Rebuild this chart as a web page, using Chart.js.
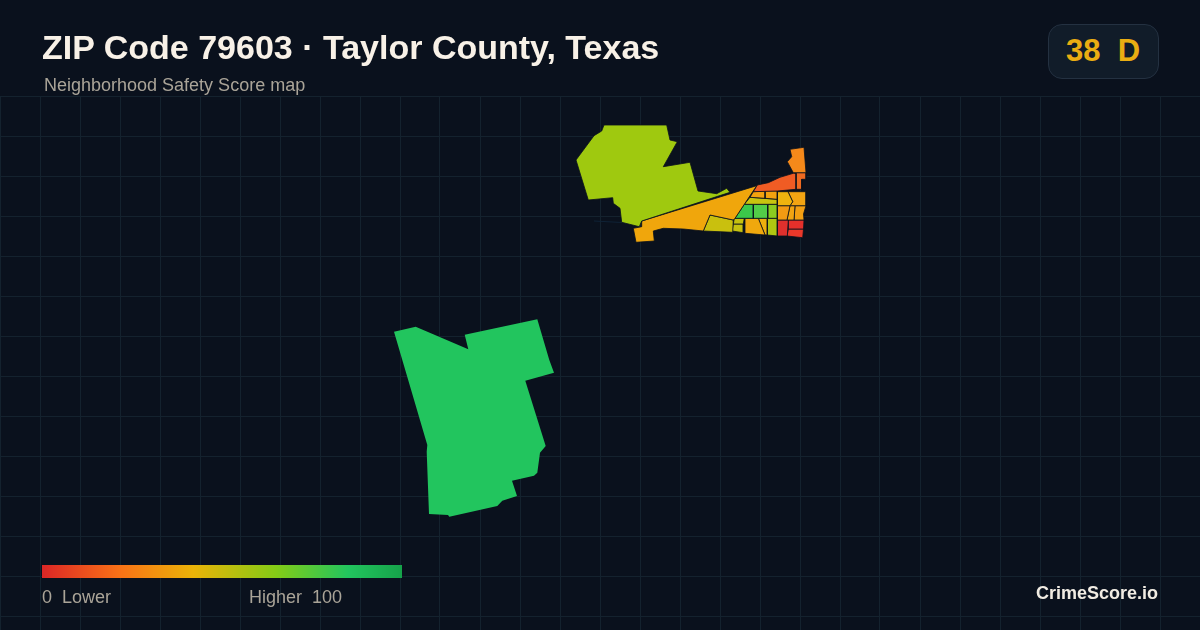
<!DOCTYPE html>
<html>
<head>
<meta charset="utf-8">
<script src="https://cdn.jsdelivr.net/npm/chart.js@4"></script>
<style>
html,body{margin:0;padding:0;background:#0a111d;}
#wrap{position:relative;width:1200px;height:630px;overflow:hidden;background:#0a111d;font-family:"Liberation Sans",Arial,sans-serif;}
canvas{position:absolute;left:0;top:0;}
.t{position:absolute;white-space:pre;line-height:1;}
#title{left:42px;top:30px;font-size:34px;font-weight:700;color:#f8f1e7;}
#sub{left:44px;top:76px;font-size:18px;color:#aaa498;}
#badge{position:absolute;left:1048px;top:24px;width:109px;height:53px;border:1px solid #243141;border-radius:14px;background:#111c29;}
#score{left:1066px;top:35px;font-size:31px;font-weight:700;color:#eaad12;}
#bar{position:absolute;left:42px;top:565px;width:360px;height:13px;background:linear-gradient(90deg,#dc2626 0%,#f97316 22%,#eab308 42%,#84cc16 65%,#22c55e 85%,#16a34a 100%);}
.leg{top:588px;font-size:18px;color:#aaa498;}
#brand{left:1036px;top:584px;font-size:18px;font-weight:700;color:#f1ece3;}
</style>
</head>
<body>
<div id="wrap">
<canvas id="c" width="1200" height="630"></canvas>
<div class="t" id="title">ZIP Code 79603 · Taylor County, Texas</div>
<div class="t" id="sub">Neighborhood Safety Score map</div>
<div id="badge"></div>
<div class="t" id="score">38  D</div>
<div id="bar"></div>
<div class="t leg" style="left:42px">0  Lower</div>
<div class="t leg" style="left:249px">Higher  100</div>
<div class="t" id="brand">CrimeScore.io</div>
</div>
<script>
const gridX = [0,40,80,120,160,200,240,280,320,360,400,440,480,520,560,600,640,680,720,760,800,840,880,920,960,1000,1040,1080,1120,1160];
const gridY = [96,136,176,216,256,296,336,376,416,456,496,536,576,616];

const southTract = [[394,331.7],[415.7,326.7],[468.3,349.3],[464.7,334.7],[537.3,319.3],[549.3,360],[554,372.7],[525.3,380.7],[545.7,446],[540,452.7],[537.3,472.7],[534,475.7],[512,480.7],[517,496],[502.3,500.7],[497.3,506],[449.3,516.7],[448,515],[429,514],[426.7,451.7],[427.3,445]];
const northWest = [[604,125],[666.7,125],[670,140],[677.3,141.7],[663.3,166.7],[690,162.3],[698,191],[716.7,193.7],[726.7,188.3],[730,192.3],[641.7,221],[639.3,226.7],[621.7,222.3],[620,208.3],[613.3,203.3],[612.7,197.7],[588.3,200],[576,160],[594,135.7],[601.7,131]];
const corridor = [[756.7,185.7],[735,218.3],[733.3,220],[710,215],[703.3,231],[683.3,229],[663.3,228.3],[653.3,231],[654.3,241],[636,242.3],[633.3,228.3],[641.7,226.7],[641.7,221]];
const westCell = [[710,215],[733.3,220],[732.7,232.3],[703.3,231]];
const northTip = [[790,149.3],[804,147.3],[806,172.7],[793.3,172.7],[787.3,161.7],[791.7,156.7]];
const northStrip = [[757.3,185],[768.3,182.7],[780,177.3],[793.3,173.3],[796,173.3],[796,189.3],[777.3,191],[753.3,191.7]];
const northEast = [[796,172.7],[806,172.7],[806,179.3],[801.7,179.3],[801.7,189.3],[796,189.3]];
const rowA = [[753.3,191.7],[765,191],[765,198.3],[750,197.3]];
const rowB = [[765,191],[777.3,191],[777.3,199.3],[765,198.3]];
const midStrip = [[750,197.3],[777.3,199.3],[777.3,204.3],[744.3,204.3]];
const green1 = [[744.3,204.3],[753.3,204.3],[753.3,218.3],[735,218.3]];
const green2 = [[753.3,204.3],[767.7,204.3],[767.7,218.3],[753.3,218.3]];
const lime1 = [[767.7,204.3],[777.3,204.3],[777.3,218.3],[767.7,218.3]];
const lowA = [[734.3,218.3],[744.3,218.3],[743.3,224],[733.3,224]];
const lowB = [[733.3,224],[743.3,224],[743.3,232.7],[732,231]];
const lowC = [[745,218.3],[758.3,218.3],[765,235],[745,233.3]];
const lowD = [[758.3,218.3],[767.3,218.3],[767.3,235],[765,235]];
const lowE = [[767.3,218.3],[777.3,218.3],[777.3,236],[767.3,235]];
const eastA = [[777.3,191.7],[788,191.7],[792.7,201.7],[790,205.7],[777.3,205.7]];
const eastB = [[788,191.7],[806,191.7],[806,205.7],[790,205.7],[792.7,201.7]];
const eastC = [[777.3,205.7],[790,205.7],[787,220],[777.3,220]];
const eastD = [[790,205.7],[795,205.7],[794,220],[787,220]];
const eastE = [[795,205.7],[806,205.7],[803.5,214],[804,220],[794,220]];
const redA = [[777.3,220],[788.3,220],[787.3,236],[777.3,236]];
const redB = [[788.3,220],[804,220],[803.5,229],[788.3,229]];
const redC = [[788.3,229],[803.5,229],[802.7,237.7],[787,236]];
const sliver = [[594,221],[622,222.5],[640,224.5]];

const zones = [southTract,northWest,corridor,westCell,northTip,northStrip,northEast,rowA,rowB,midStrip,green1,green2,lime1,lowA,lowB,lowC,lowD,lowE,eastA,eastB,eastC,eastD,eastE,redA,redB,redC];
const zoneColors = ['#22c55e','#9fc90f','#f0a60c','#c9c00e','#f5891a','#f05c24','#f06a20','#f2a20f','#f2a20f','#c8c40f','#3cc84a','#52cd48','#8ccc20','#c5c20f','#c5c20f','#f0a80d','#eeb00d','#b0c612','#efb40e','#f2a412','#f39a13','#f2a412','#f39f12','#e0302d','#e5302b','#ea382a'];

const stroke = '#0a111d';
const datasets = zones.map((z,i)=>({
  data: z.concat([z[0]]).map(p=>({x:p[0],y:p[1]})),
  showLine:true, fill:'shape', backgroundColor:zoneColors[i],
  borderColor: i===0 ? zoneColors[i] : stroke, borderWidth: i===0 ? 0 : 0.8,
  pointRadius:0, tension:0
}));
datasets.push({data:sliver.map(p=>({x:p[0],y:p[1]})),showLine:true,fill:false,borderColor:'#0f2236',borderWidth:1,pointRadius:0,tension:0});

new Chart(document.getElementById('c'),{
  type:'scatter',
  data:{datasets},
  options:{
    responsive:false,animation:false,devicePixelRatio:1,
    layout:{padding:{top:96,left:0,right:0,bottom:0}},
    plugins:{legend:{display:false},tooltip:{enabled:false},title:{display:false}},
    scales:{
      x:{type:'linear',min:0,max:1200,
        afterBuildTicks:s=>{s.ticks=gridX.map(v=>({value:v}));},
        ticks:{display:false},border:{display:false},grid:{color:'#14222e',lineWidth:1,drawTicks:false}},
      y:{type:'linear',min:96,max:630,reverse:true,
        afterBuildTicks:s=>{s.ticks=gridY.map(v=>({value:v}));},
        ticks:{display:false},border:{display:false},grid:{color:'#14222e',lineWidth:1,drawTicks:false}}
    }
  }
});
</script>
</body>
</html>
